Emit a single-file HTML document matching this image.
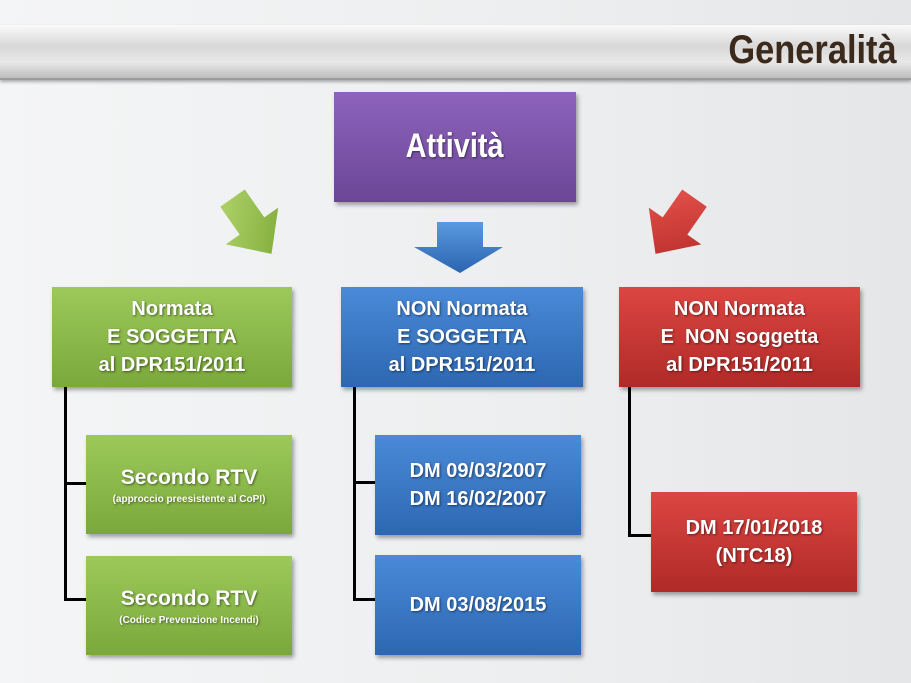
<!DOCTYPE html>
<html><head><meta charset="utf-8"><style>
body{margin:0;width:911px;height:683px;overflow:hidden;background:linear-gradient(90deg,#f4f5f6 0%,#eceeef 60%,#e4e6e8 100%);font-family:"Liberation Sans",sans-serif;position:relative}
.bar{position:absolute;left:0;top:25px;width:911px;height:53px;background:linear-gradient(180deg,#fafafa 0%,#d8d8d8 40%,#e8e8e8 70%,#bdbdbd 100%);border-bottom:2px solid #9a9a9a;box-shadow:0 2px 3px rgba(0,0,0,.3)}
.title{position:absolute;right:14px;top:28px;font-size:40px;color:#3b2a1c;font-weight:bold;transform:scaleX(.86);transform-origin:right}
.b{position:absolute;color:#fff;font-weight:bold;text-align:center;display:flex;align-items:center;justify-content:center;text-shadow:1px 1px 2px rgba(0,0,0,.5);box-shadow:2px 3px 4px rgba(0,0,0,.35);line-height:1.4;font-size:20px}
.g{background:linear-gradient(180deg,#9cc95a,#7aa83a)}
.bl{background:linear-gradient(180deg,#4a8ad8,#2d67b2)}
.r{background:linear-gradient(180deg,#dc4642,#b02a27)}
.ln{position:absolute;background:#000}
small{font-size:10px;display:block;line-height:1.3}
</style></head><body>
<div class="bar"></div>
<div class="title">Generalità</div>
<div class="b" style="left:334px;top:92px;width:242px;height:110px;background:linear-gradient(180deg,#8d63bc,#6b4696);font-size:34px"><span style="display:inline-block;transform:scaleX(.85)">Attività</span></div>
<svg width="911" height="683" style="position:absolute;left:0;top:0">
<defs>
<linearGradient id="gg" x1="0" y1="0" x2="1" y2="1"><stop offset="0" stop-color="#b5d870"/><stop offset="1" stop-color="#78a632"/></linearGradient>
<linearGradient id="bg" x1="0" y1="0" x2="0" y2="1"><stop offset="0" stop-color="#5a9ae0"/><stop offset="1" stop-color="#2b64b0"/></linearGradient>
<linearGradient id="rg" x1="0" y1="0" x2="1" y2="1"><stop offset="0" stop-color="#e8554f"/><stop offset="1" stop-color="#b52a26"/></linearGradient>
</defs>
<polygon points="437,222 483,222 483,247 503,247 460,273 414,247 437,247" fill="url(#bg)"/>
<g transform="translate(252,226) rotate(-35)"><polygon points="-15,-34 15,-34 15,0 32,0 0,34 -32,0 -15,0" fill="url(#gg)"/></g>
<g transform="translate(675,226) rotate(35)"><polygon points="-15,-34 15,-34 15,0 32,0 0,34 -32,0 -15,0" fill="url(#rg)"/></g>
</svg>
<div class="ln" style="left:64px;top:386px;width:3px;height:215px"></div>
<div class="ln" style="left:64px;top:482px;width:24px;height:3px"></div>
<div class="ln" style="left:64px;top:598px;width:24px;height:3px"></div>
<div class="ln" style="left:353px;top:386px;width:3px;height:215px"></div>
<div class="ln" style="left:353px;top:481px;width:24px;height:3px"></div>
<div class="ln" style="left:353px;top:598px;width:24px;height:3px"></div>
<div class="ln" style="left:628px;top:386px;width:3px;height:151px"></div>
<div class="ln" style="left:628px;top:534px;width:24px;height:3px"></div>
<div class="b g" style="left:52px;top:287px;width:240px;height:100px">Normata<br>E SOGGETTA<br>al DPR151/2011</div>
<div class="b bl" style="left:341px;top:287px;width:242px;height:100px">NON Normata<br>E SOGGETTA<br>al DPR151/2011</div>
<div class="b r" style="left:619px;top:287px;width:241px;height:100px">NON Normata<br>E&nbsp; NON soggetta<br>al DPR151/2011</div>
<div class="b g" style="left:86px;top:435px;width:206px;height:99px;font-size:21px"><div>Secondo RTV<small>(approccio preesistente al CoPI)</small></div></div>
<div class="b g" style="left:86px;top:556px;width:206px;height:99px;font-size:21px"><div>Secondo RTV<small>(Codice Prevenzione Incendi)</small></div></div>
<div class="b bl" style="left:375px;top:435px;width:206px;height:100px">DM 09/03/2007<br>DM 16/02/2007</div>
<div class="b bl" style="left:375px;top:555px;width:206px;height:100px">DM 03/08/2015</div>
<div class="b r" style="left:651px;top:492px;width:206px;height:100px">DM 17/01/2018<br>(NTC18)</div>
</body></html>
